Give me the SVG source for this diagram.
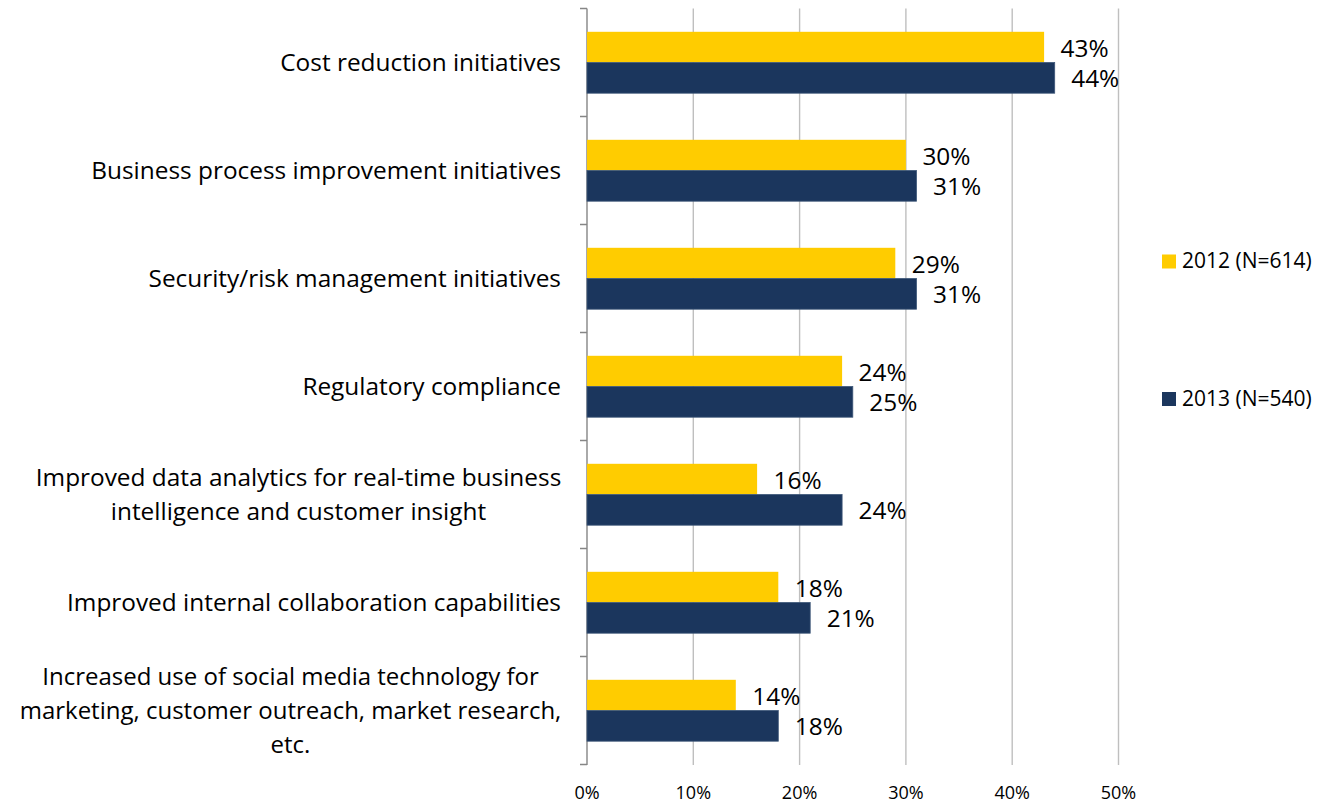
<svg xmlns="http://www.w3.org/2000/svg" width="1324" height="804" viewBox="0 0 1324 804">
<style>
text{font-family:"Open Sans","Liberation Sans",sans-serif;fill:#000}
.cat{font-size:24.4px;text-anchor:end}
.catm{font-size:24.4px;text-anchor:middle}
.val{font-size:24.4px}
.ax{font-size:18px;text-anchor:middle}
.leg{font-size:21px}
.grid{stroke:#BFBFBF;stroke-width:1.4}
.axis{stroke:#868686;stroke-width:1.4;fill:none}
.y12{fill:#FFCC00}
.y13{fill:#1B365D;stroke:#3E5779;stroke-width:0.8}
</style>
<rect width="1324" height="804" fill="#fff"/>
<g id="gridlines">
<line class="grid" x1="693.3" y1="8.5" x2="693.3" y2="765"/>
<line class="grid" x1="799.6" y1="8.5" x2="799.6" y2="765"/>
<line class="grid" x1="905.9" y1="8.5" x2="905.9" y2="765"/>
<line class="grid" x1="1012.2" y1="8.5" x2="1012.2" y2="765"/>
<line class="grid" x1="1118.5" y1="8.5" x2="1118.5" y2="765"/>
</g>
<g id="axis">
<path class="axis" d="M587,8.5V765M580,8.5H587M580,116.5H587M580,224.5H587M580,332.5H587M580,440.5H587M580,548.5H587M580,656.5H587M580,764.5H587"/>
<text class="ax" x="587" y="799">0%</text>
<text class="ax" x="693.3" y="799">10%</text>
<text class="ax" x="799.6" y="799">20%</text>
<text class="ax" x="905.9" y="799">30%</text>
<text class="ax" x="1012.2" y="799">40%</text>
<text class="ax" x="1118.5" y="799">50%</text>
</g>
<g id="cat1">
<text class="cat" x="561" y="71">Cost reduction initiatives</text>
<rect class="y12" x="587" y="31.8" width="457.1" height="30.7"/>
<rect class="y13" x="587" y="62.5" width="467.7" height="30.7"/>
<text class="val" x="1060.6" y="56.6">43%</text>
<text class="val" x="1071.2" y="87.4">44%</text>
</g>
<g id="cat2">
<text class="cat" x="561" y="179">Business process improvement initiatives</text>
<rect class="y12" x="587" y="139.8" width="318.9" height="30.7"/>
<rect class="y13" x="587" y="170.5" width="329.5" height="30.7"/>
<text class="val" x="922.4" y="164.6">30%</text>
<text class="val" x="933" y="195.4">31%</text>
</g>
<g id="cat3">
<text class="cat" x="561" y="287">Security/risk management initiatives</text>
<rect class="y12" x="587" y="247.8" width="308.3" height="30.7"/>
<rect class="y13" x="587" y="278.5" width="329.5" height="30.7"/>
<text class="val" x="911.8" y="272.6">29%</text>
<text class="val" x="933" y="303.4">31%</text>
</g>
<g id="cat4">
<text class="cat" x="561" y="395">Regulatory compliance</text>
<rect class="y12" x="587" y="355.8" width="255.1" height="30.7"/>
<rect class="y13" x="587" y="386.5" width="265.8" height="30.7"/>
<text class="val" x="858.6" y="380.6">24%</text>
<text class="val" x="869.3" y="411.4">25%</text>
</g>
<g id="cat5">
<text class="catm" x="298.5" y="486.4">Improved data analytics for real-time business</text>
<text class="catm" x="298.5" y="520.4">intelligence and customer insight</text>
<rect class="y12" x="587" y="463.8" width="170.1" height="30.7"/>
<rect class="y13" x="587" y="494.5" width="255.1" height="30.7"/>
<text class="val" x="773.6" y="488.6">16%</text>
<text class="val" x="858.6" y="519.4">24%</text>
</g>
<g id="cat6">
<text class="cat" x="561" y="611">Improved internal collaboration capabilities</text>
<rect class="y12" x="587" y="571.8" width="191.3" height="30.7"/>
<rect class="y13" x="587" y="602.5" width="223.2" height="30.7"/>
<text class="val" x="794.8" y="596.6">18%</text>
<text class="val" x="826.7" y="627.4">21%</text>
</g>
<g id="cat7">
<text class="catm" x="290.5" y="685" style="font-size:24px">Increased use of social media technology for</text>
<text class="catm" x="290.5" y="719" style="font-size:24px">marketing, customer outreach, market research,</text>
<text class="catm" x="290.5" y="753" style="font-size:24px">etc.</text>
<rect class="y12" x="587" y="679.8" width="148.8" height="30.7"/>
<rect class="y13" x="587" y="710.5" width="191.3" height="30.7"/>
<text class="val" x="752.3" y="704.6">14%</text>
<text class="val" x="794.8" y="735.4">18%</text>
</g>
<g id="legend">
<rect class="y12" x="1162" y="254.5" width="14" height="14"/>
<text class="leg" x="1182" y="268">2012 (N=614)</text>
<rect x="1162" y="392" width="14" height="14" fill="#1B365D"/>
<text class="leg" x="1182" y="405.7">2013 (N=540)</text>
</g>
</svg>
